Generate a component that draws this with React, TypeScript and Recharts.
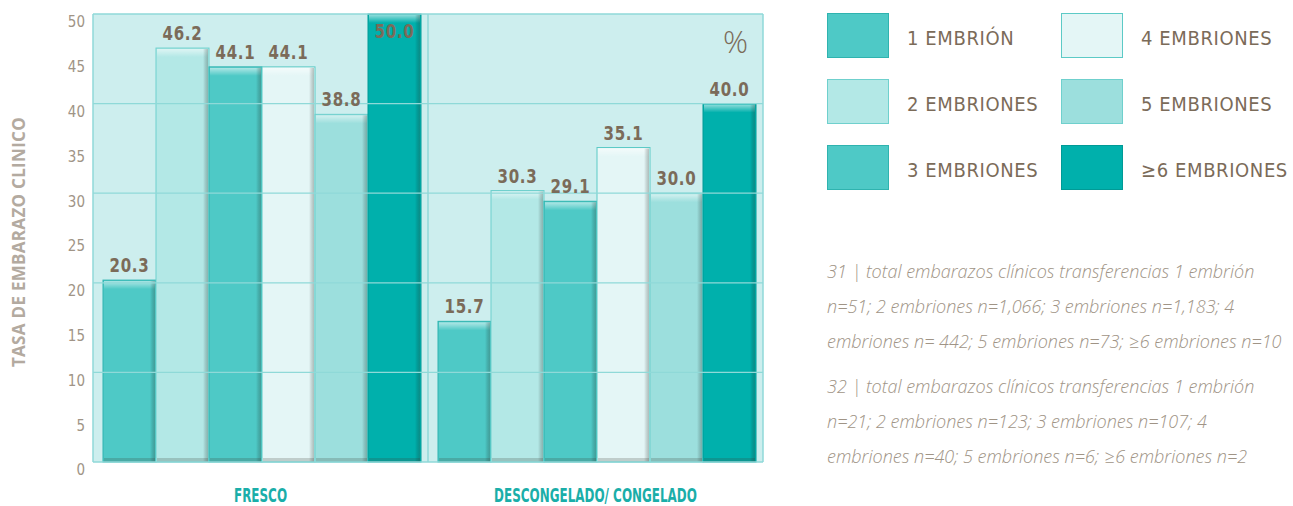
import { BarChart, Bar, XAxis, YAxis, CartesianGrid, ReferenceLine, LabelList } from "recharts";

const categories = ["FRESCO", "DESCONGELADO/ CONGELADO"];
const seriesNames = ["1 EMBRIÓN", "2 EMBRIONES", "3 EMBRIONES", "4 EMBRIONES", "5 EMBRIONES", "≥6 EMBRIONES"];
const seriesColors = ["#4ec9c6", "#b3e8e6", "#4ec9c6", "#e4f6f6", "#9cdfdd", "#00b0ac"];
const seriesEdges = ["#2fb3af", "#6fd0cd", "#2fb3af", "#5ccac6", "#6fd0cd", "#009a96"];
const frescoValues = [20.3, 46.2, 44.1, 44.1, 38.8, 50.0];
const congeladoValues = [15.7, 30.3, 29.1, 35.1, 30.0, 40.0];
const yTicks = [0, 5, 10, 15, 20, 25, 30, 35, 40, 45, 50];
const gridValues = [10, 20, 30, 40];
const yTitle = "TASA DE EMBARAZO CLINICO";
const footnotes = [
  [
    "31 | total embarazos clínicos transferencias 1 embrión",
    "n=51; 2 embriones n=1,066; 3 embriones n=1,183; 4",
    "embriones n= 442; 5 embriones n=73; ≥6 embriones n=10",
  ],
  [
    "32 | total embarazos clínicos transferencias 1 embrión",
    "n=21; 2 embriones n=123; 3 embriones n=107; 4",
    "embriones n=40; 5 embriones n=6; ≥6 embriones n=2",
  ],
];

const valueSets = [frescoValues, congeladoValues];
const data = categories.map((name, ci) => {
  const row: Record<string, string | number> = { name };
  seriesNames.forEach((_, si) => {
    row[`s${si}`] = valueSets[ci][si];
  });
  return row;
});

const yMax = yTicks[yTicks.length - 1];
const brown = "#7b6b59";
const grey = "#a09486";
const teal = "#1aaea9";
const gridColor = "#8fd9d8";
const narrow = "'Liberation Sans Narrow', 'DejaVu Sans Condensed', sans-serif";

const Bar3D = (props: any) => {
  const { x, y, width, height, fill, stroke } = props;
  if (!height || height <= 0) return null;
  const hl = Math.min(8, height);
  return (
    <g>
      <rect x={x} y={y} width={width} height={height} fill={fill} stroke={stroke} strokeWidth={1} />
      <rect x={x + 1} y={y + 1} width={width - 2} height={hl} fill="url(#topHl)" />
      <rect x={x + width - 6} y={y + 1} width={5} height={height - 1} fill="url(#rightShade)" />
      <rect x={x + 1} y={y + height - 4} width={width - 2} height={4} fill="rgba(60,60,50,0.22)" />
    </g>
  );
};

const ValueLabel = (props: any) => {
  const { x, y, width, value } = props;
  const inside = Number(value) >= yMax;
  const cx = x + width / 2;
  const ty = inside ? y + 24 : y - 8;
  return (
    <text
      transform={`translate(${cx}, ${ty}) scale(0.88, 1)`}
      textAnchor="middle"
      fill={brown}
      fontFamily={narrow}
      fontWeight="bold"
      fontSize={19}
      letterSpacing={0.8}
    >
      {Number(value).toFixed(1)}
    </text>
  );
};

const YTick = (props: any) => {
  const { x, y, payload } = props;
  return (
    <text x={x} y={y + 8} dy="0.355em" textAnchor="end" fill={grey} fontFamily={narrow} fontSize={15}>
      {payload.value}
    </text>
  );
};

const XTick = (props: any) => {
  const { x, y, payload } = props;
  return (
    <text
      transform={`translate(${x}, ${y + 32}) scale(0.7, 1)`}
      textAnchor="middle"
      fill={teal}
      fontFamily={narrow}
      fontWeight="bold"
      fontSize={19}
    >
      {payload.value}
    </text>
  );
};

const YTitle = (props: any) => {
  const { viewBox } = props;
  const cx = viewBox.x + 18;
  const cy = viewBox.y + viewBox.height / 2 + 4;
  return (
    <text
      x={cx}
      y={cy}
      transform={`rotate(-90, ${cx}, ${cy})`}
      textAnchor="middle"
      dominantBaseline="central"
      fill="#b3aaa0"
      fontFamily="'Open Sans', sans-serif"
      fontWeight="bold"
      fontSize={17}
      letterSpacing={0.3}
    >
      {yTitle}
    </text>
  );
};

const LegendGrid = () => (
  <div
    style={{
      position: "absolute",
      left: 827,
      top: 13,
      display: "grid",
      gridTemplateColumns: "234px 234px",
      gridAutoFlow: "column",
      gridTemplateRows: "66px 66px 66px",
    }}
  >
    {seriesNames.map((name, i) => (
      <div key={name} style={{ display: "flex", alignItems: "center", height: 45 }}>
        <div style={{ width: 60, height: 43, background: seriesColors[i], border: `1px solid ${seriesEdges[i]}` }} />
        <span
          style={{
            marginLeft: 18,
            marginTop: 4,
            fontFamily: narrow,
            fontSize: 20,
            letterSpacing: 0.6,
            color: brown,
            whiteSpace: "nowrap",
          }}
        >
          {name}
        </span>
      </div>
    ))}
  </div>
);

export default function App() {
  return (
    <div style={{ position: "relative", width: 1293, height: 506, overflow: "hidden", background: "#fff" }}>
      <style>{"body{margin:0}"}</style>
      <BarChart
        width={800}
        height={506}
        data={data}
        margin={{ top: 14, right: 37, bottom: 0, left: 0 }}
        barCategoryGap={10}
        barGap={0}
      >
        <defs>
          <linearGradient id="topHl" x1="0" y1="0" x2="0" y2="1">
            <stop offset="0%" stopColor="#ffffff" stopOpacity={0.55} />
            <stop offset="100%" stopColor="#ffffff" stopOpacity={0} />
          </linearGradient>
          <linearGradient id="rightShade" x1="0" y1="0" x2="1" y2="0">
            <stop offset="0%" stopColor="#000000" stopOpacity={0} />
            <stop offset="100%" stopColor="#2a3a30" stopOpacity={0.3} />
          </linearGradient>
        </defs>
        <CartesianGrid fill="#cdeeee" horizontal={false} vertical={false} />
        {gridValues.map((v) => (
          <ReferenceLine key={v} y={v} stroke={gridColor} strokeWidth={1.2} />
        ))}
        <ReferenceLine y={0} stroke={gridColor} strokeWidth={1.5} />
        <ReferenceLine y={yMax} stroke={gridColor} strokeWidth={1.5} />
        <ReferenceLine x={categories[0]} position="start" stroke={gridColor} strokeWidth={1.5} />
        <ReferenceLine x={categories[0]} position="end" stroke={gridColor} strokeWidth={1.5} />
        <ReferenceLine x={categories[1]} position="end" stroke={gridColor} strokeWidth={1.5} />
        <XAxis dataKey="name" axisLine={false} tickLine={false} height={44} tick={<XTick />} interval={0} />
        <YAxis
          width={93}
          domain={[0, yMax]}
          ticks={yTicks}
          axisLine={false}
          tickLine={false}
          tick={<YTick />}
          label={<YTitle />}
        />
        {seriesNames.map((name, i) => (
          <Bar
            key={name}
            dataKey={`s${i}`}
            name={name}
            fill={seriesColors[i]}
            stroke={seriesEdges[i]}
            shape={<Bar3D />}
            isAnimationActive={false}
          >
            <LabelList dataKey={`s${i}`} content={<ValueLabel />} />
          </Bar>
        ))}
      </BarChart>
      <LegendGrid />
      <div
        style={{
          position: "absolute",
          left: 723,
          top: 20,
          fontFamily: "'Open Sans', sans-serif",
          fontWeight: 300,
          fontSize: 31,
          color: brown,
        }}
      >
        %
      </div>
      <div style={{ position: "absolute", left: 827, top: 254 }}>
        {footnotes.map((block, bi) => (
          <div key={bi} style={{ marginBottom: 10 }}>
            {block.map((line) => (
              <div
                key={line}
                style={{
                  fontFamily: "'Open Sans', sans-serif",
                  fontStyle: "italic",
                  fontWeight: 300,
                  fontSize: 18,
                  lineHeight: "35px",
                  color: grey,
                  whiteSpace: "nowrap",
                }}
              >
                {line}
              </div>
            ))}
          </div>
        ))}
      </div>
    </div>
  );
}
